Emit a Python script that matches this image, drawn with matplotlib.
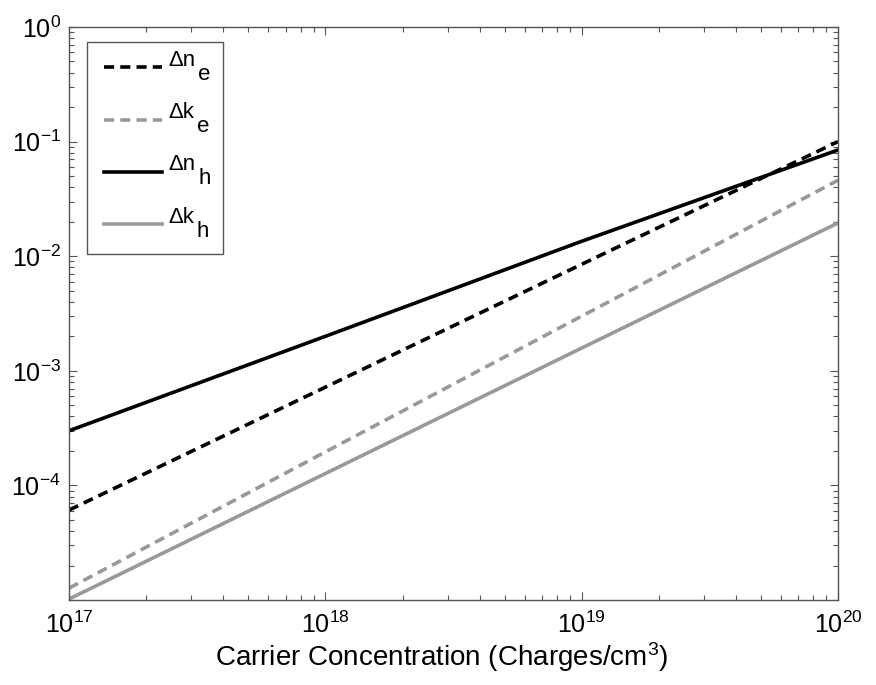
#!/usr/bin/env python3
"""Free-carrier index / extinction changes vs carrier concentration (log-log)."""

import matplotlib

matplotlib.use("Agg")
import matplotlib.pyplot as plt
from matplotlib.ticker import LogLocator, LogFormatterMathtext, NullFormatter

# values at each decade
concentration = [1e17, 1e18, 1e19, 1e20]
dn_e = [6.1e-5, 7.2e-4, 8.5e-3, 1.0e-1]
dk_e = [1.27e-5, 1.96e-4, 3.0e-3, 4.6e-2]
dn_h = [3.0e-4, 2.0e-3, 1.35e-2, 8.45e-2]
dk_h = [1.02e-5, 1.27e-4, 1.58e-3, 1.95e-2]

# legend labels: main symbol + full-size subscript (MATLAB style)
label_main = ["\u0394n", "\u0394k", "\u0394n", "\u0394k"]
label_sub = ["e", "e", "h", "h"]
y_ticks = [1e-4, 1e-3, 1e-2, 1e-1, 1e0]

plt.rcParams["font.family"] = ["Liberation Sans", "DejaVu Sans"]
plt.rcParams["mathtext.fontset"] = "custom"
plt.rcParams["mathtext.rm"] = "Liberation Sans"
plt.rcParams["mathtext.it"] = "Liberation Sans"
plt.rcParams["axes.unicode_minus"] = False

GRAY = "#999999"
AXIS = "#555555"
LW = 2.6
DASH = (2.8, 1.7)
LEGEND_SIZE = 16

fig = plt.figure(figsize=(8.76, 6.85), dpi=100)
ax = fig.add_axes([0.0788, 0.124, 0.8778, 0.8366])

ax.plot(concentration, dn_e, color="black", lw=LW, dashes=DASH, label=label_main[0])
ax.plot(concentration, dk_e, color=GRAY, lw=LW, dashes=DASH, label=label_main[1])
ax.plot(concentration, dn_h, color="black", lw=LW, label=label_main[2])
ax.plot(concentration, dk_h, color=GRAY, lw=LW, label=label_main[3])

ax.set_xscale("log")
ax.set_yscale("log")
ax.set_xlim(1e17, 1e20)
ax.set_ylim(1e-5, 1e0)

ax.xaxis.set_major_locator(LogLocator(base=10, numticks=10))
ax.xaxis.set_minor_locator(LogLocator(base=10, subs=range(2, 10), numticks=20))
ax.yaxis.set_minor_locator(LogLocator(base=10, subs=range(2, 10), numticks=20))
ax.xaxis.set_minor_formatter(NullFormatter())
ax.yaxis.set_minor_formatter(NullFormatter())
ax.set_yticks(y_ticks)
ax.yaxis.set_major_formatter(LogFormatterMathtext())

ax.tick_params(which="both", direction="in", top=True, right=True, colors=AXIS,
               labelcolor="black", labelsize=18)
ax.tick_params(which="major", length=6, width=0.8)
ax.tick_params(which="minor", length=3.5, width=0.8)
ax.tick_params(axis="x", pad=8)
ax.tick_params(axis="y", pad=6)
for spine in ax.spines.values():
    spine.set_color(AXIS)
    spine.set_linewidth(1.0)

ax.set_xlabel(r"Carrier Concentration (Charges/cm$^\mathregular{3}$)", fontsize=20, labelpad=2)
ax.xaxis.label.set_x(0.484)

# expand mode gives the box the reference width
legend = ax.legend(loc="upper left", bbox_to_anchor=(0.0234, 0.974, 0.177, 0.0),
                   mode="expand", borderaxespad=0,
                   fontsize=LEGEND_SIZE, handlelength=2.6, handletextpad=0.3,
                   labelspacing=1.4, fancybox=False, edgecolor=AXIS, framealpha=1,
                   borderpad=0.78)
legend.get_frame().set_linewidth(1.0)

# add the subscripts at full size, lowered below the baseline
fig.canvas.draw()
renderer = fig.canvas.get_renderer()
for txt, sub in zip(legend.get_texts(), label_sub):
    width_pt = txt.get_window_extent(renderer).width * 72 / fig.dpi
    txt.set_y(9)
    ax.annotate(sub, xy=(0, 0), xycoords=txt, xytext=(width_pt + 1.5, -6.5),
                textcoords="offset points", fontsize=LEGEND_SIZE, ha="left",
                va="baseline", zorder=6)

fig.savefig("out.png", dpi=100)
plt.close(fig)
